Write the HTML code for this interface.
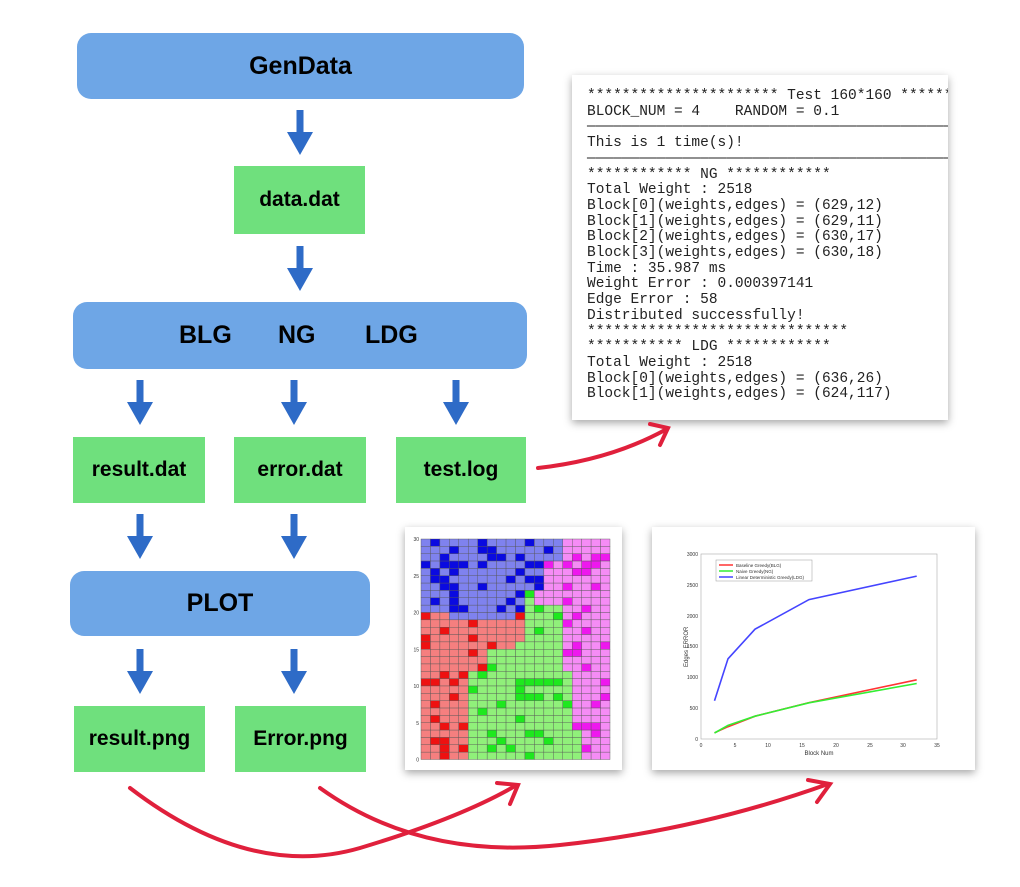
<!DOCTYPE html>
<html><head><meta charset="utf-8"><style>
body{margin:0;width:1020px;height:887px;background:#fff;position:relative;overflow:hidden;font-family:"Liberation Sans",sans-serif}
.b{position:absolute;display:flex;align-items:center;justify-content:center;font-weight:bold;color:#000}
.blue{background:#6ea6e6;border-radius:14px;font-size:25px}
.green{background:#6fe07d;font-size:21px}
.card{position:absolute;background:#fff;box-shadow:0 3px 8px rgba(0,0,0,.35);overflow:hidden}
pre{margin:0;font-family:"Liberation Mono",monospace;font-size:14.5px;line-height:15.7px;color:#222;white-space:pre}
</style></head><body>
<div class="b blue" style="left:77px;top:33px;width:447px;height:66px">GenData</div>
<div class="b green" style="left:234px;top:166px;width:131px;height:68px">data.dat</div>
<div class="b blue" style="left:73px;top:302px;width:454px;height:67px"><span style="position:absolute;left:106px">BLG</span><span style="position:absolute;left:205px">NG</span><span style="position:absolute;left:292px">LDG</span></div>
<div class="b green" style="left:73px;top:437px;width:132px;height:66px">result.dat</div>
<div class="b green" style="left:234px;top:437px;width:132px;height:66px">error.dat</div>
<div class="b green" style="left:396px;top:437px;width:130px;height:66px">test.log</div>
<div class="b blue" style="left:70px;top:571px;width:300px;height:65px">PLOT</div>
<div class="b green" style="left:74px;top:706px;width:131px;height:66px">result.png</div>
<div class="b green" style="left:235px;top:706px;width:131px;height:66px">Error.png</div>

<div class="card" style="left:572px;top:75px;width:376px;height:345px">
<pre style="position:absolute;left:15px;top:14px">********************** Test 160*160 *******
BLOCK_NUM = 4    RANDOM = 0.1
———————————————————————————————————————————
This is 1 time(s)!
———————————————————————————————————————————
************ NG ************
Total Weight : 2518
Block[0](weights,edges) = (629,12)
Block[1](weights,edges) = (629,11)
Block[2](weights,edges) = (630,17)
Block[3](weights,edges) = (630,18)
Time : 35.987 ms
Weight Error : 0.000397141
Edge Error : 58
Distributed successfully!
******************************
*********** LDG ************
Total Weight : 2518
Block[0](weights,edges) = (636,26)
Block[1](weights,edges) = (624,117)</pre></div>

<div class="card" style="left:405px;top:527px;width:217px;height:243px"><svg id="grid" width="217" height="243"></svg></div>

<div class="card" style="left:652px;top:527px;width:323px;height:243px">
<svg width="323" height="243" font-family="Liberation Sans" font-size="5" fill="#333">
<rect x="49" y="27" width="236" height="185" fill="none" stroke="#aaa" stroke-width=".6"/>
<g text-anchor="end"><text x="46" y="29">3000</text><text x="46" y="60">2500</text><text x="46" y="91">2000</text><text x="46" y="121">1500</text><text x="46" y="152">1000</text><text x="46" y="183">500</text><text x="46" y="214">0</text></g>
<g text-anchor="middle"><text x="49" y="220">0</text><text x="83" y="220">5</text><text x="116" y="220">10</text><text x="150" y="220">15</text><text x="184" y="220">20</text><text x="218" y="220">25</text><text x="251" y="220">30</text><text x="285" y="220">35</text><text x="167" y="228" font-size="6">Block Num</text></g>
<text x="36" y="140" font-size="6" transform="rotate(-90 36 140)">Edges ERROR</text>
<rect x="64" y="33" width="96" height="21" fill="#fff" stroke="#999" stroke-width=".5"/>
<line x1="67" y1="38" x2="81" y2="38" stroke="#f33" stroke-width="1.5"/><text x="84" y="40" font-size="4.5">Baseline Greedy(BLG)</text>
<line x1="67" y1="44" x2="81" y2="44" stroke="#3e3" stroke-width="1.5"/><text x="84" y="46" font-size="4.5">Naive Greedy(NG)</text>
<line x1="67" y1="50" x2="81" y2="50" stroke="#44f" stroke-width="1.5"/><text x="84" y="52" font-size="4.5">Linear Deterministic Greedy(LDG)</text>
<polyline points="62.5,173.7 76,131.8 103,102.2 157,72.6 264.7,49.1" fill="none" stroke="#44f" stroke-width="1.6"/>
<polyline points="62.5,205.8 76,199.7 103,189.2 157,175.6 264.7,152.8" fill="none" stroke="#f33" stroke-width="1.6"/>
<polyline points="62.5,206 76,198.4 103,189.2 157,175.8 264.7,156.5" fill="none" stroke="#3e3" stroke-width="1.6"/>
</svg></div>

<svg width="1020" height="887" style="position:absolute;left:0;top:0;pointer-events:none">
<defs><g id="ar"><rect x="-3.5" y="0" width="7" height="26"/><polygon points="-13,22 13,22 0,45"/></g></defs>
<g fill="#2e6bc7">
<use href="#ar" x="300" y="110"/><use href="#ar" x="300" y="246"/>
<use href="#ar" x="140" y="380"/><use href="#ar" x="294" y="380"/><use href="#ar" x="456" y="380"/>
<use href="#ar" x="140" y="514"/><use href="#ar" x="294" y="514"/>
<use href="#ar" x="140" y="649"/><use href="#ar" x="294" y="649"/>
</g>
<g fill="none" stroke="#e0203c" stroke-width="4" stroke-linecap="round">
<path d="M538,468 Q610,460 665,430"/><path d="M650,424 L668,428 L660,445"/>
<path d="M130,788 Q250,880 360,848 Q460,818 515,786"/><path d="M497,783 L518,785 L510,804"/>
<path d="M320,788 Q420,860 560,845 Q700,830 828,784"/><path d="M808,780 L830,784 L817,802"/>
</g></svg>
<script>
var s=document.getElementById('grid'),h='',W=9.45,H=7.35,x0=16,y0=12;
function rnd(i){var x=Math.sin(i*12.9898)*43758.5453;return x-Math.floor(x);}
for(var r=0;r<30;r++)for(var c=0;c<20;c++){
var row=29-r,light,dark;
var b=(row>=20||(row>=19&&c>=3&&c<10))&&c<13+(row>26?2:0)-(row<23?2:0);
if(c>=17||(c>=15&&row>=12)||(c>=16&&row>=4)||(c>=12&&row>=21&&!b)){light='#f58cf5';dark='#ee18ee';}
else if(b){light='#7f82ee';dark='#0a0ae0';}
else if((c<5&&row<20)||(c<7&&row>=12&&row<20)||(c<11&&row>=16&&row<20)||(c<10&&row>=15&&row<17)){light='#f57f7f';dark='#ee1111';}
else{light='#90f07a';dark='#1ee81e';}
var col=rnd(r*20+c+1)<0.25?dark:light;
h+='<rect x="'+(x0+c*W)+'" y="'+(y0+r*H)+'" width="'+W+'" height="'+H+'" fill="'+col+'" stroke="#555" stroke-width="0.4"/>';}
h+='<g font-size="5" font-family="Liberation Sans" fill="#333" text-anchor="end">';
for(var k=0;k<=6;k++)h+='<text x="14" y="'+(y0+220.5-k*36.75+2)+'">'+(k*5)+'</text>';
h+='</g>';s.innerHTML=h;
</script>
</body></html>
